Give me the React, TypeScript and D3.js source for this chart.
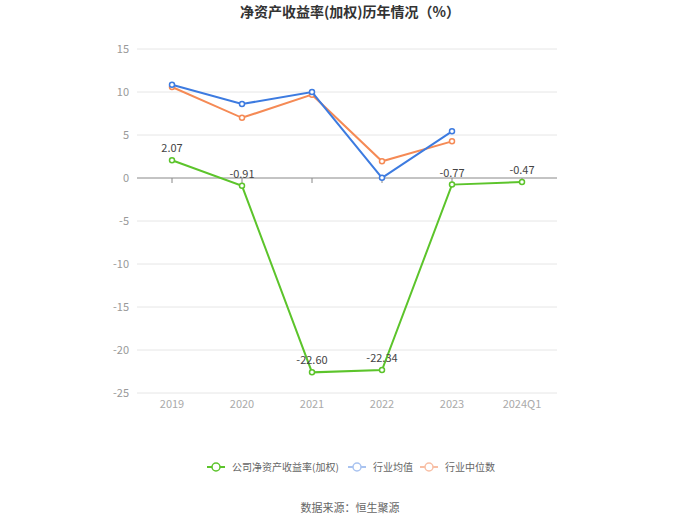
import React, { useEffect, useRef } from 'react';
import * as d3 from 'd3';

const categories = ['2019', '2020', '2021', '2022', '2023', '2024Q1'];
const companyRoe = [2.07, -0.91, -22.6, -22.34, -0.77, -0.47];
const industryMean: (number | null)[] = [10.85, 8.6, 10.0, 0.02, 5.43, null];
const industryMedian: (number | null)[] = [10.58, 7.0, 9.69, 1.94, 4.26, null];
const yTicks = [15, 10, 5, 0, -5, -10, -15, -20, -25];

const FONT = '"Microsoft YaHei", "Noto Sans CJK SC", sans-serif';

const App: React.FC = () => {
  const svgRef = useRef<SVGSVGElement>(null);
  const width = 700;
  const height = 525;

  useEffect(() => {
    const svg = d3.select(svgRef.current);
    svg.selectAll('*').remove();

    const left = 137;
    const right = 557;
    const top = 49;
    const bottom = 393;

    const x = d3.scaleBand<string>().domain(categories).range([left, right]);
    const y = d3.scaleLinear().domain([-25, 15]).range([bottom, top]);
    const cx = (c: string) => (x(c) || 0) + x.bandwidth() / 2;

    // Title
    svg.append('text')
      .attr('x', 350)
      .attr('y', 17)
      .attr('text-anchor', 'middle')
      .attr('font-size', '14px')
      .attr('font-weight', 'bold')
      .attr('font-family', FONT)
      .attr('fill', '#333')
      .text('净资产收益率(加权)历年情况（%）');

    // Grid lines
    svg.selectAll('.grid')
      .data(yTicks.filter(d => d !== 0))
      .enter()
      .append('line')
      .attr('x1', left)
      .attr('x2', right)
      .attr('y1', d => y(d))
      .attr('y2', d => y(d))
      .attr('stroke', '#e6e6e6')
      .attr('stroke-width', 1);

    // Y labels
    svg.selectAll('.ylab')
      .data(yTicks)
      .enter()
      .append('text')
      .attr('x', left - 8)
      .attr('y', d => y(d))
      .attr('dy', '0.35em')
      .attr('text-anchor', 'end')
      .attr('font-size', '11px')
      .attr('font-family', FONT)
      .attr('fill', '#999')
      .text(d => d);

    // Zero axis line
    svg.append('line')
      .attr('x1', left)
      .attr('x2', right)
      .attr('y1', y(0))
      .attr('y2', y(0))
      .attr('stroke', '#888')
      .attr('stroke-width', 1);

    svg.selectAll('.xtick')
      .data(categories)
      .enter()
      .append('line')
      .attr('x1', d => cx(d))
      .attr('x2', d => cx(d))
      .attr('y1', y(0))
      .attr('y2', y(0) + 5)
      .attr('stroke', '#888');

    // X labels
    svg.selectAll('.xlab')
      .data(categories)
      .enter()
      .append('text')
      .attr('x', d => cx(d))
      .attr('y', bottom + 15)
      .attr('text-anchor', 'middle')
      .attr('font-size', '11px')
      .attr('font-family', FONT)
      .attr('fill', '#aaa')
      .text(d => d);

    const drawSeries = (values: (number | null)[], color: string) => {
      const pts = values
        .map((v, i) => ({ c: categories[i], v }))
        .filter(p => p.v !== null) as { c: string; v: number }[];
      const line = d3.line<{ c: string; v: number }>()
        .x(d => cx(d.c))
        .y(d => y(d.v));
      svg.append('path')
        .datum(pts)
        .attr('d', line)
        .attr('fill', 'none')
        .attr('stroke', color)
        .attr('stroke-width', 2);
      svg.selectAll(null)
        .data(pts)
        .enter()
        .append('circle')
        .attr('cx', d => cx(d.c))
        .attr('cy', d => y(d.v))
        .attr('r', 2.5)
        .attr('fill', '#fff')
        .attr('stroke', color)
        .attr('stroke-width', 1.5);
      return pts;
    };

    drawSeries(industryMedian, '#f58a55');
    drawSeries(industryMean, '#3d7be0');
    const companyPts = drawSeries(companyRoe, '#5cc42b');

    // Value labels for company series
    svg.selectAll('.vlab')
      .data(companyPts)
      .enter()
      .append('text')
      .attr('x', d => cx(d.c))
      .attr('y', d => y(d.v) - 8)
      .attr('text-anchor', 'middle')
      .attr('font-size', '11px')
      .attr('font-family', FONT)
      .attr('fill', '#444')
      .text(d => d.v.toFixed(2));

    // Legend
    const legend = [
      { name: '公司净资产收益率(加权)', color: '#5cc42b', x: 207 },
      { name: '行业均值', color: '#a9c3f0', x: 348 },
      { name: '行业中位数', color: '#f8bfa5', x: 420 },
    ];
    const ly = 467;
    legend.forEach(item => {
      const g = svg.append('g');
      g.append('line')
        .attr('x1', item.x)
        .attr('x2', item.x + 18)
        .attr('y1', ly)
        .attr('y2', ly)
        .attr('stroke', item.color)
        .attr('stroke-width', 2);
      g.append('circle')
        .attr('cx', item.x + 9)
        .attr('cy', ly)
        .attr('r', 4)
        .attr('fill', '#fff')
        .attr('stroke', item.color)
        .attr('stroke-width', 1.5);
      g.append('text')
        .attr('x', item.x + 25)
        .attr('y', ly)
        .attr('dy', '0.35em')
        .attr('font-size', '10px')
        .attr('font-family', FONT)
        .attr('fill', '#666')
        .text(item.name);
    });

    // Source
    svg.append('text')
      .attr('x', 350)
      .attr('y', 508)
      .attr('dy', '0.35em')
      .attr('text-anchor', 'middle')
      .attr('font-size', '11px')
      .attr('font-family', FONT)
      .attr('fill', '#666')
      .text('数据来源：恒生聚源');
  }, []);

  return (
    <svg
      ref={svgRef}
      width={width}
      height={height}
      style={{ position: 'absolute', left: 0, top: 0, background: '#fff' }}
    />
  );
};

export default App;
